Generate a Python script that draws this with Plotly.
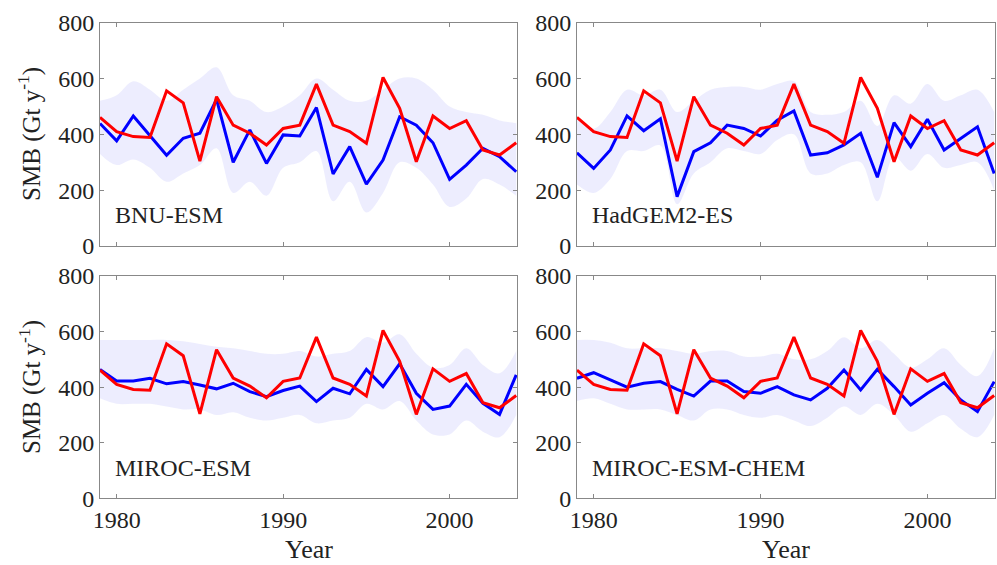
import plotly.graph_objects as go

years = list(range(1979, 2005))

# Reference (red) series, identical in all panels
smb_ref = [461, 410, 392, 389, 556, 513, 304, 535, 433, 404, 362, 421, 433, 580,
           433, 410, 368, 604, 493, 302, 466, 421, 449, 344, 326, 370]

model_names = ["BNU-ESM", "HadGEM2-ES", "MIROC-ESM", "MIROC-ESM-CHEM"]

bnu_mean = [439, 377, 466, 394, 325, 386, 404, 525, 300, 416, 296, 398, 394, 496,
            258, 356, 222, 308, 463, 433, 370, 239, 290, 350, 320, 266]
bnu_upper = [520, 540, 590, 560, 520, 560, 600, 640, 540, 520, 480, 500, 540, 600,
             560, 520, 520, 560, 600, 600, 560, 500, 480, 470, 450, 440]
bnu_lower = [330, 290, 310, 280, 230, 260, 290, 350, 190, 230, 180, 280, 300, 340,
             160, 230, 120, 190, 300, 280, 220, 140, 170, 240, 220, 180]

had_mean = [334, 278, 344, 466, 413, 456, 177, 338, 370, 433, 421, 394, 451, 484,
            326, 334, 362, 404, 246, 442, 356, 454, 344, 386, 427, 260]
had_upper = [460, 420, 480, 560, 540, 560, 480, 520, 560, 570, 570, 560, 580, 590,
             480, 470, 480, 520, 430, 540, 510, 580, 520, 540, 560, 480]
had_lower = [220, 190, 240, 340, 340, 360, 150, 260, 300, 350, 340, 330, 380, 400,
             260, 260, 290, 300, 160, 320, 270, 330, 280, 290, 300, 200]

mir_mean = [464, 422, 422, 432, 412, 420, 408, 394, 414, 384, 366, 388, 404, 348,
            396, 376, 464, 402, 484, 378, 320, 332, 410, 342, 302, 444]
mir_upper = [570, 570, 570, 570, 570, 565, 555, 545, 540, 530, 520, 520, 530, 510,
             520, 530, 580, 560, 590, 520, 470, 480, 540, 480, 450, 530]
mir_lower = [360, 340, 340, 340, 330, 320, 320, 300, 310, 290, 280, 290, 300, 270,
             280, 290, 340, 320, 350, 280, 230, 230, 280, 240, 220, 300]

chem_mean = [432, 452, 426, 400, 414, 420, 392, 368, 422, 422, 384, 378, 402, 372,
             354, 396, 462, 390, 464, 402, 336, 378, 416, 354, 312, 420]
chem_upper = [570, 570, 560, 540, 540, 540, 530, 520, 530, 530, 510, 510, 520, 500,
              500, 530, 580, 540, 570, 520, 470, 500, 540, 480, 440, 540]
chem_lower = [350, 360, 340, 320, 320, 320, 300, 280, 320, 320, 300, 290, 300, 280,
              260, 290, 330, 300, 340, 300, 240, 270, 300, 250, 220, 300]

y_ticks = [0, 200, 400, 600, 800]
x_ticks = [1980, 1990, 2000]

means = [bnu_mean, had_mean, mir_mean, chem_mean]
uppers = [bnu_upper, had_upper, mir_upper, chem_upper]
lowers = [bnu_lower, had_lower, mir_lower, chem_lower]

FONT = "Liberation Serif, Times New Roman, serif"
TXT = "#222"
BAND = "rgba(190,190,252,0.28)"

fig = go.Figure()

xdoms = [[0.1003, 0.5186], [0.5787, 0.998]]
ydoms = [[0.5646, 0.9598], [0.118, 0.5115]]

for i in range(4):
    r, c = divmod(i, 2)
    ax = "" if i == 0 else str(i + 1)
    xref = "x" + ax
    yref = "y" + ax
    fig.add_trace(go.Scatter(x=years, y=uppers[i], mode="lines", line=dict(width=0, shape="spline"),
                             hoverinfo="skip", showlegend=False, xaxis=xref, yaxis=yref))
    fig.add_trace(go.Scatter(x=years, y=lowers[i], mode="lines", line=dict(width=0, shape="spline"),
                             fill="tonexty", fillcolor=BAND,
                             hoverinfo="skip", showlegend=False, xaxis=xref, yaxis=yref))
    fig.add_trace(go.Scatter(x=years, y=means[i], mode="lines",
                             line=dict(color="#0000ff", width=3),
                             showlegend=False, xaxis=xref, yaxis=yref))
    fig.add_trace(go.Scatter(x=years, y=smb_ref, mode="lines",
                             line=dict(color="#ff0000", width=3),
                             showlegend=False, xaxis=xref, yaxis=yref))

    xa = dict(domain=xdoms[c], range=[1979, 2004.05], tickvals=x_ticks,
              showticklabels=(r == 1), ticks="inside", ticklen=4, tickcolor="#888",
              showline=True, linecolor="#888", linewidth=1, mirror="ticks",
              showgrid=False, zeroline=False, anchor=yref, automargin=False,
              tickfont=dict(family=FONT, size=24, color=TXT))
    ya = dict(domain=ydoms[r], range=[0, 800], tickvals=y_ticks,
              ticks="inside", ticklen=4, tickcolor="#888",
              showline=True, linecolor="#888", linewidth=1, mirror="ticks",
              showgrid=False, zeroline=False, anchor=xref, automargin=False,
              tickfont=dict(family=FONT, size=24, color=TXT))
    fig.layout["xaxis" + ax] = xa
    fig.layout["yaxis" + ax] = ya

    fig.add_annotation(text=model_names[i], xref=xref + " domain", yref=yref,
                       x=0.03, y=110, xanchor="left", yanchor="middle",
                       showarrow=False,
                       font=dict(family=FONT, size=24, color=TXT))

# y-axis titles (left column)
for yc in [0.763, 0.315]:
    fig.add_annotation(text="SMB (Gt y<sup>-1</sup>)", xref="paper", yref="paper",
                       x=30 / 997, y=yc, xanchor="center", yanchor="middle",
                       textangle=-90, showarrow=False,
                       font=dict(family=FONT, size=25, color=TXT))

# x-axis titles (bottom row)
for xc in [308.5 / 997, 786 / 997]:
    fig.add_annotation(text="Year", xref="paper", yref="paper",
                       x=xc, y=(565 - 549) / 565, xanchor="center", yanchor="middle",
                       showarrow=False,
                       font=dict(family=FONT, size=26, color=TXT))

fig.update_layout(width=997, height=565, margin=dict(l=0, r=0, t=0, b=0),
                  paper_bgcolor="white", plot_bgcolor="white")

fig.write_html("out.html")
